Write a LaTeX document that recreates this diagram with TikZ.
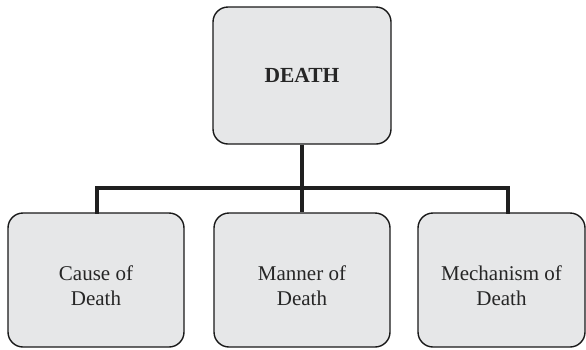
\documentclass[tikz,border=0pt]{standalone}
\usepackage{fontspec}
\setmainfont{Liberation Serif}
\begin{document}
\begin{tikzpicture}[x=1pt,y=-1pt,
  box/.style={draw=black!90, line width=1.4pt, fill=boxgray, rounded corners=15pt,
    align=center, font=\fontsize{21}{25}\selectfont, text=black!85, inner sep=0pt},
  leaf/.style={box, minimum height=134pt, text height=50pt, text depth=0pt},
  link/.style={line width=3.8pt, color=black!88}]
  \definecolor{boxgray}{HTML}{E6E7E8}
  \useasboundingbox (0,0) rectangle (586,349);
  % top node
  \node[box, minimum width=178pt, minimum height=137pt, font=\fontsize{21.5}{25}\selectfont\bfseries]
    (death) at (302,75.5) {DEATH};
  % three categories
  \node[leaf, minimum width=176pt] (cause) at (96,280) {Cause of\\Death};
  \node[leaf, minimum width=176pt] (manner) at (302,280) {Manner of\\Death};
  \node[leaf, minimum width=167pt] (mech) at (501.5,280) {Mechanism of\\Death};
  % branch points on the bar
  \coordinate (bl) at (97,188);
  \coordinate (bm) at (302,188);
  \coordinate (br) at (508,188);
  \draw[link] (death.south) -- (bm);
  \draw[link, line cap=rect] (bl |- cause.north) -- (bl) -- (br) -- (br |- mech.north);
  \draw[link] (bm) -- (manner.north);
\end{tikzpicture}
\end{document}
